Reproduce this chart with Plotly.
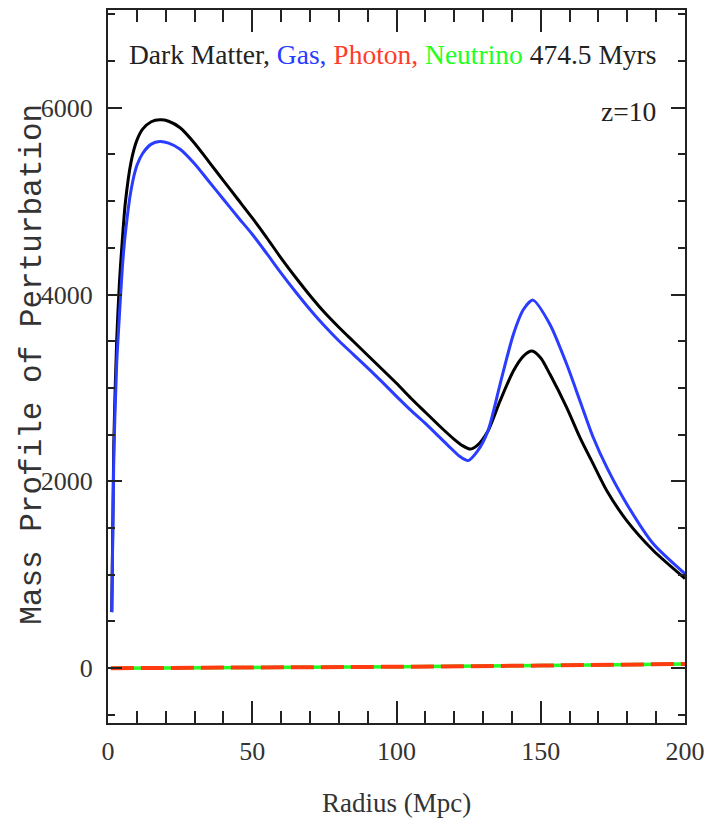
import plotly.graph_objects as go

# ---- data ----
dm_r = [1.3, 2, 3, 4, 5, 6, 8, 10, 12, 15, 18, 21, 25, 30, 35, 40, 45, 50, 55, 60, 65,
        70, 75, 80, 85, 90, 95, 100, 105, 110, 115, 120, 123, 125.5, 128, 131.7, 135.9,
        140.5, 144, 147, 150, 153.2, 159, 163.6, 168.2, 172.9, 179.8, 189, 200]
dm_mass = [600, 2400, 3500, 4150, 4600, 4980, 5420, 5650, 5770, 5850, 5870, 5855, 5785,
           5620, 5420, 5220, 5020, 4820, 4610, 4390, 4185, 3990, 3810, 3650, 3500, 3350,
           3200, 3050, 2890, 2740, 2590, 2450, 2380, 2345, 2385, 2540, 2861, 3181, 3341,
           3395, 3320, 3146, 2790, 2469, 2185, 1900, 1580, 1260, 960]

gas_r = [1.3, 2, 3, 4, 5, 6, 8, 10, 12, 15, 18, 21, 25, 30, 35, 40, 45, 50, 55, 60, 65,
         70, 75, 80, 85, 90, 95, 100, 105, 110, 115, 118, 122, 124.8, 128, 131.7, 135.9,
         140.5, 144, 147.3, 153.2, 159, 163.6, 168.2, 172.9, 179.8, 189, 200]
gas_mass = [600, 2250, 3250, 3800, 4300, 4650, 5120, 5380, 5510, 5610, 5637, 5620, 5555,
            5400, 5210, 5020, 4830, 4645, 4440, 4230, 4030, 3840, 3665, 3505, 3360, 3215,
            3065, 2910, 2760, 2620, 2470, 2380, 2265, 2222, 2320, 2540, 3039, 3573, 3840,
            3940, 3680, 3253, 2861, 2469, 2149, 1758, 1331, 1010]

photon_r = [1, 50, 100, 150, 200]
photon_mass = [0, 5, 15, 28, 45]

neutrino_r = [1, 50, 100, 150, 200]
neutrino_mass = [0, 5, 15, 28, 45]

x_ticks = [0, 50, 100, 150, 200]
y_ticks = [0, 2000, 4000, 6000]

title_parts = [("Dark Matter, ", "#222222"), ("Gas, ", "#2a3cff"), ("Photon, ", "#ff3b2a"),
               ("Neutrino ", "#22ff22"), ("474.5 Myrs", "#222222")]
redshift_label = "z=10"

fig = go.Figure()
fig.add_trace(go.Scatter(x=neutrino_r, y=neutrino_mass, mode="lines",
                         line=dict(color="#22ff22", width=3.5), showlegend=False))
fig.add_trace(go.Scatter(x=photon_r, y=photon_mass, mode="lines",
                         line=dict(color="#ff3b10", width=4, dash="23px,7px"), showlegend=False))
fig.add_trace(go.Scatter(x=dm_r, y=dm_mass, mode="lines",
                         line=dict(color="#000000", width=3, shape="spline", smoothing=0.7),
                         showlegend=False))
fig.add_trace(go.Scatter(x=gas_r, y=gas_mass, mode="lines",
                         line=dict(color="#2a3cff", width=3, shape="spline", smoothing=0.7),
                         showlegend=False))

serif = "Liberation Serif"
axis_common = dict(showgrid=False, zeroline=False, showline=True, linecolor="#222222",
                   linewidth=2, mirror="allticks", ticks="inside", tickcolor="#222222",
                   tickwidth=2, tickfont=dict(family=serif, size=26, color="#333333"))

fig.update_xaxes(range=[0, 200], tickvals=x_ticks, ticklen=22, ticklabelstandoff=4,
                 minor=dict(dtick=10, tick0=0, ticklen=12, ticks="inside", tickcolor="#222222",
                            tickwidth=2),
                 **axis_common)
fig.update_yaxes(range=[-587, 7046], tickvals=y_ticks, ticklen=14, ticklabelstandoff=8,
                 minor=dict(dtick=500, tick0=0, ticklen=7, ticks="inside", tickcolor="#222222",
                            tickwidth=2),
                 **axis_common)

title_html = "".join(f'<span style="color:{c}">{t}</span>' for t, c in title_parts)
fig.add_annotation(x=190.5, y=6565, xref="x", yref="y", xanchor="right", yanchor="middle",
                   text=title_html, showarrow=False, font=dict(family=serif, size=27.5))
fig.add_annotation(x=190.5, y=5957, xref="x", yref="y", xanchor="right", yanchor="middle",
                   text=redshift_label, showarrow=False,
                   font=dict(family=serif, size=27.5, color="#222222"))
fig.add_annotation(x=-0.131, y=0.503, xref="paper", yref="paper", xanchor="center",
                   yanchor="middle", textangle=-90, text="Mass Profile of Perturbation",
                   showarrow=False, font=dict(family="Liberation Mono", size=31, color="#333333"))
fig.add_annotation(x=0.5, y=-0.112, xref="paper", yref="paper", xanchor="center",
                   yanchor="middle", text="Radius (Mpc)", showarrow=False,
                   font=dict(family=serif, size=27, color="#333333"))

# page body has an 8px offset; compensate so the plot area lands where the reference has it
fig.update_layout(width=713, height=817, margin=dict(l=100, r=36, t=0, b=102),
                  plot_bgcolor="white", paper_bgcolor="white")

fig.write_html("out.html")
